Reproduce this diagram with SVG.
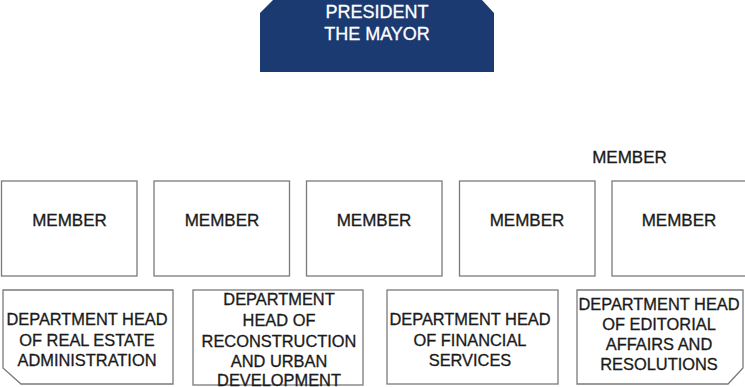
<svg xmlns="http://www.w3.org/2000/svg" width="745" height="387" viewBox="0 0 745 387">
  <style>
    .box { fill: #ffffff; stroke: #7a7a7a; stroke-width: 1.3; }
    .head { fill: #1b3a72; }
    text { font-family: "Liberation Sans", Arial, sans-serif; text-anchor: middle; fill: #1a1a1a; stroke: #1a1a1a; stroke-width: 0.3; }
    .w { fill: #ffffff; stroke: #ffffff; font-size: 18px; }
    .m { font-size: 17px; }
    .d { font-size: 16.4px; }
  </style>
  <rect width="745" height="387" fill="#ffffff"/>

  <!-- head of the board -->
  <g id="president">
    <path class="head" d="M260,13 L273,0 L482,0 L494,13 L494,72 L260,72 Z"/>
    <text class="w" x="377" y="18">PRESIDENT</text>
    <text class="w" x="377" y="40">THE MAYOR</text>
  </g>

  <!-- floating label above the last member -->
  <g id="member-label">
    <text class="m" x="629.5" y="163">MEMBER</text>
  </g>

  <!-- members row -->
  <g id="member1">
    <rect class="box" x="1.5" y="181" width="135.5" height="95"/>
    <text class="m" x="69.5" y="226">MEMBER</text>
  </g>
  <g id="member2">
    <rect class="box" x="154" y="181" width="135.5" height="95"/>
    <text class="m" x="222" y="226">MEMBER</text>
  </g>
  <g id="member3">
    <rect class="box" x="306.5" y="181" width="135.5" height="95"/>
    <text class="m" x="374" y="226">MEMBER</text>
  </g>
  <g id="member4">
    <rect class="box" x="459.5" y="181" width="135.5" height="95"/>
    <text class="m" x="527" y="226">MEMBER</text>
  </g>
  <g id="member5">
    <rect class="box" x="612" y="181" width="136" height="95"/>
    <text class="m" x="679" y="226">MEMBER</text>
  </g>

  <!-- department heads row -->
  <g id="dept-real-estate">
    <path class="box" d="M3,290 L173,290 L173,384 L21,384 L3,368 Z"/>
    <text class="d" x="87" y="325">DEPARTMENT HEAD</text>
    <text class="d" x="87" y="346">OF REAL ESTATE</text>
    <text class="d" x="87" y="366">ADMINISTRATION</text>
  </g>
  <g id="dept-reconstruction">
    <rect class="box" x="193" y="290" width="170" height="95"/>
    <text class="d" x="279" y="305">DEPARTMENT</text>
    <text class="d" x="279" y="326">HEAD OF</text>
    <text class="d" x="279" y="346.5">RECONSTRUCTION</text>
    <text class="d" x="279" y="366.5">AND URBAN</text>
    <text class="d" x="279" y="386">DEVELOPMENT</text>
  </g>
  <g id="dept-financial">
    <rect class="box" x="387" y="290" width="171" height="94"/>
    <text class="d" x="470" y="325">DEPARTMENT HEAD</text>
    <text class="d" x="470" y="346">OF FINANCIAL</text>
    <text class="d" x="470" y="366">SERVICES</text>
  </g>
  <g id="dept-editorial">
    <path class="box" d="M577,290 L743,290 L743,368 L728,384 L577,384 Z"/>
    <text class="d" x="659" y="310">DEPARTMENT HEAD</text>
    <text class="d" x="659" y="330">OF EDITORIAL</text>
    <text class="d" x="659" y="350">AFFAIRS AND</text>
    <text class="d" x="659" y="370">RESOLUTIONS</text>
  </g>

  <g id="connectors"></g>
</svg>
